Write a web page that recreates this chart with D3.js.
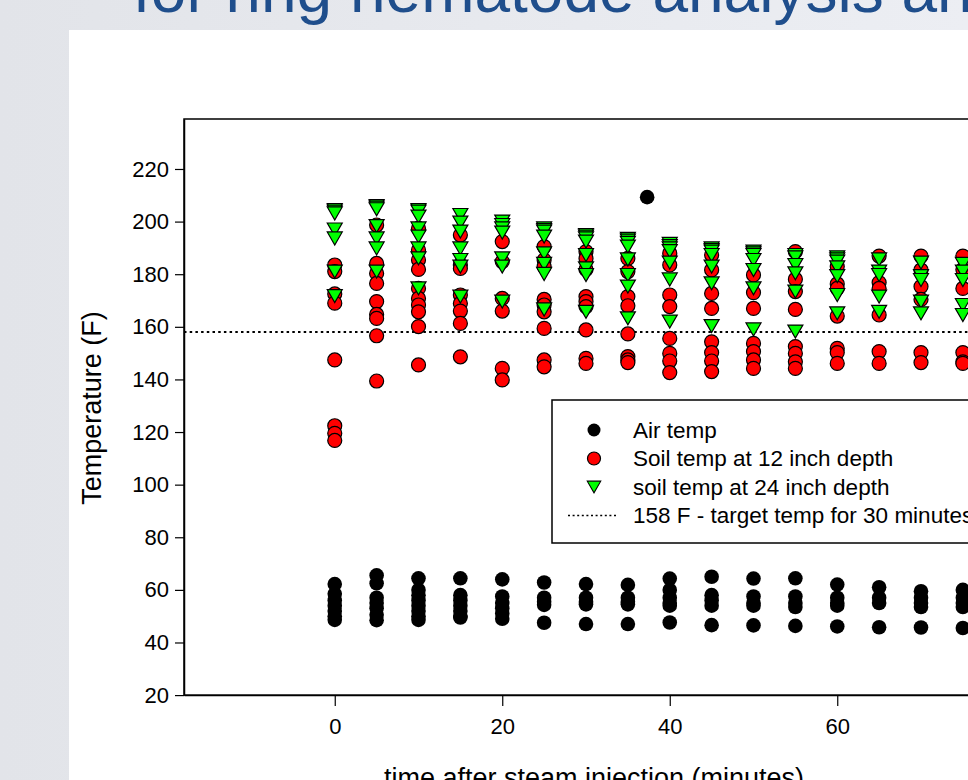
<!DOCTYPE html>
<html>
<head>
<meta charset="utf-8">
<script src="https://cdn.jsdelivr.net/npm/d3@7/dist/d3.min.js"></script>
<style>
  html, body { margin: 0; padding: 0; background: #e6e8ed; }
  svg { display: block; }
  text { font-family: "Liberation Sans", Arial, sans-serif; }
</style>
</head>
<body>
<svg id="chart" width="968" height="780"></svg>
<script>
// ---------------- DATA ----------------
const slideTitle = "for ring nematode analysis and";
const xTitle = "time after steam injection (minutes)";
const yTitle = "Temperature (F)";
const xTicks = [0, 20, 40, 60];
const yTicks = [20, 40, 60, 80, 100, 120, 140, 160, 180, 200, 220];
const targetTemp = 158;

const times = [0, 5, 10, 15, 20, 25, 30, 35, 40, 45, 50, 55, 60, 65, 70, 75];

const airTemp = [
  [62.2, 58.5, 56, 54, 52, 50, 48.6],
  [65.5, 62.5, 57, 55, 53, 50.5, 48.5],
  [64.4, 60, 58, 56, 54, 52, 50, 48.6],
  [64.4, 58, 56, 54, 52, 50, 49.5],
  [64, 57.5, 55, 53, 51, 49],
  [62.8, 57, 55.5, 54.3, 47.5],
  [62.2, 57, 55.5, 54.5, 47],
  [61.9, 57, 55.5, 54.5, 47],
  [64.3, 60, 57, 55, 54, 47.6],
  [65, 58, 56, 54, 46.6],
  [64.3, 57.5, 55, 54, 46.5],
  [64.4, 57.5, 55, 53.5, 46.3],
  [62, 57, 55, 54, 46.1],
  [61, 57, 55, 45.8],
  [59.5, 57, 55, 53.5, 45.7],
  [60, 57, 55, 53.5, 45.5]
];
const airExtraTimes = [37.3];
const airExtraValues = [209.3];

const soil12 = [
  [183.5, 181, 172.5, 169, 147.4, 122.4, 119.5, 116.8],
  [198.7, 184.1, 180.3, 176.5, 169.6, 164.7, 163.2, 156.6, 139.4],
  [197.4, 189.2, 185.4, 181.8, 174.6, 170.8, 168.3, 165.7, 160.1, 145.5],
  [194.9, 183.5, 182.2, 172.1, 168.9, 166, 161.3, 148.6],
  [192.4, 184.8, 170.8, 166, 144.2, 139.8],
  [190.5, 185.4, 182.9, 170.4, 168.3, 165.7, 159.4, 147.4, 144.8],
  [188.6, 186, 181.8, 171.5, 169.6, 167.7, 158.8, 148, 146.1],
  [186, 181, 171.5, 168, 157.3, 148.7, 147.4, 146.4],
  [188, 183.5, 172.1, 167.7, 155.6, 149.9, 147, 142.6],
  [187.3, 181.6, 172.7, 167, 154.3, 150.2, 147, 143],
  [179.7, 173, 167, 153.7, 150.6, 147.4, 144.2],
  [188.6, 178.1, 173.4, 166.6, 152.5, 149.9, 146.7, 144.2],
  [182.9, 176.3, 174.6, 164.1, 151.8, 150.2, 146.1],
  [186.9, 176.8, 174.6, 164.5, 150.6, 146.1],
  [186.9, 181.6, 175.3, 170.4, 150.2, 146.4],
  [186.9, 181.8, 174.6, 150.2, 146.7, 146.1]
];

const soil24 = [
  [204.4, 203.8, 203.1, 197, 193.6, 181, 171.7],
  [205.9, 205.3, 204.7, 198.3, 193.6, 189.8, 181],
  [204.4, 203.8, 201.9, 197.4, 194.3, 189.8, 186, 174.6],
  [202.5, 199.6, 196.2, 189.8, 185.4, 182.9, 171.5],
  [200, 198.7, 197.4, 195.8, 186, 182.9, 169.6],
  [197.4, 196.8, 196.2, 194.3, 187.9, 183.9, 180.1, 166.6],
  [194.9, 194.3, 193.6, 192.4, 187.3, 182.2, 179.7, 165.7],
  [193.4, 192.8, 191.9, 190.5, 185.6, 179.7, 175.3, 163.2],
  [191.5, 190.7, 189.8, 188.8, 184.4, 178, 162],
  [189.8, 189.2, 188.6, 187.3, 182.9, 176.5, 160.3],
  [188.6, 187.9, 187.3, 185.4, 181.6, 174.6, 159],
  [187.3, 186.4, 183.5, 180.3, 173.4, 158.2],
  [186.4, 185.6, 184.8, 182.6, 179.3, 172.1, 165.1],
  [185.6, 181, 179.7, 171.5, 165.7],
  [184.4, 179.3, 177.8, 169.6, 165.1],
  [183.9, 181, 177.8, 168.3, 164.5]
];

const legendLabels = [
  "Air temp",
  "Soil temp at 12 inch depth",
  "soil temp at 24 inch depth",
  "158 F - target temp for 30 minutes"
];

// ---------------- DRAW ----------------
const svg = d3.select("#chart");

// slide background
const defs = svg.append("defs");
const grad = defs.append("linearGradient").attr("id", "bg").attr("x1", "0").attr("x2", "1").attr("y1", "0").attr("y2", "0");
grad.append("stop").attr("offset", "0").attr("stop-color", "#e2e4e9");
grad.append("stop").attr("offset", "1").attr("stop-color", "#eceef3");
svg.append("rect").attr("width", 968).attr("height", 780).attr("fill", "url(#bg)");
svg.append("rect").attr("x", 69).attr("y", 30).attr("width", 899).attr("height", 750).attr("fill", "#ffffff");

// slide title (cut off at top, as in the slide)
svg.append("text")
  .attr("x", 133).attr("y", 12)
  .attr("font-size", 64)
  .attr("fill", "#1f4e8c")
  .text(slideTitle);

const plotLeft = 184, plotTop = 119, plotBottom = 695.1;
const x = d3.scaleLinear().domain([-18, 80]).range([plotLeft, plotLeft + 98 * 8.375]);
const y = d3.scaleLinear().domain([20, 239]).range([plotBottom, plotTop]);

// frame
svg.append("rect")
  .attr("x", x.range()[0]).attr("y", plotTop)
  .attr("width", x.range()[1] - x.range()[0]).attr("height", plotBottom - plotTop)
  .attr("fill", "none").attr("stroke", "#000").attr("stroke-width", 1.5);

// axes
const yAxis = svg.append("g")
  .attr("transform", `translate(${plotLeft},0)`)
  .call(d3.axisLeft(y).tickValues(yTicks).tickSizeInner(9).tickSizeOuter(0).tickPadding(6).tickFormat(d3.format("d")));
const xAxis = svg.append("g")
  .attr("transform", `translate(0,${plotBottom})`)
  .call(d3.axisBottom(x).tickValues(xTicks).tickSizeInner(11).tickSizeOuter(0).tickPadding(12).tickFormat(d3.format("d")));
[yAxis, xAxis].forEach(g => {
  g.select(".domain").attr("stroke", "#000").attr("stroke-width", 1.5);
  g.selectAll(".tick line").attr("stroke", "#000").attr("stroke-width", 1.2);
  g.selectAll(".tick text").attr("font-size", 22).attr("fill", "#000")
    .attr("font-family", "'Liberation Sans', Arial, sans-serif");
});

// axis titles
svg.append("text")
  .attr("transform", `translate(101,408) rotate(-90)`)
  .attr("text-anchor", "middle")
  .attr("font-size", 27)
  .attr("fill", "#000")
  .text(yTitle);
svg.append("text")
  .attr("x", 594).attr("y", 787)
  .attr("text-anchor", "middle")
  .attr("font-size", 27)
  .attr("fill", "#000")
  .text(xTitle);

// target line
svg.append("line")
  .attr("x1", x.range()[0]).attr("x2", x.range()[1])
  .attr("y1", y(targetTemp)).attr("y2", y(targetTemp))
  .attr("stroke", "#000").attr("stroke-width", 2).attr("stroke-dasharray", "2.5,3.2");

// flatten helper
function flat(series) {
  const out = [];
  series.forEach((vals, i) => vals.forEach(v => out.push({ t: times[i], v })));
  return out;
}
const airPts = flat(airTemp).concat(airExtraTimes.map((t, i) => ({ t, v: airExtraValues[i] })));

const tri = "M-7.5,-6.5L7.5,-6.5L0,6.5Z";

svg.append("g").selectAll("circle").data(airPts).join("circle")
  .attr("cx", d => x(d.t)).attr("cy", d => y(d.v)).attr("r", 7.3)
  .attr("fill", "#000");

svg.append("g").selectAll("circle").data(flat(soil12)).join("circle")
  .attr("cx", d => x(d.t)).attr("cy", d => y(d.v)).attr("r", 7)
  .attr("fill", "#ff0000").attr("stroke", "#000").attr("stroke-width", 1.2);

svg.append("g").selectAll("path").data(flat(soil24)).join("path")
  .attr("transform", d => `translate(${x(d.t)},${y(d.v)})`)
  .attr("d", tri)
  .attr("fill", "#00ff00").attr("stroke", "#000").attr("stroke-width", 1.2)
  .attr("stroke-linejoin", "miter");

// legend
const lg = svg.append("g");
lg.append("rect").attr("x", 552).attr("y", 400).attr("width", 460).attr("height", 143)
  .attr("fill", "#fff").attr("stroke", "#000").attr("stroke-width", 1.5);
const rowsY = [430, 458.5, 487, 515.5];
const symX = 594;
lg.append("circle").attr("cx", symX).attr("cy", rowsY[0]).attr("r", 6.5).attr("fill", "#000");
lg.append("circle").attr("cx", symX).attr("cy", rowsY[1]).attr("r", 6.5)
  .attr("fill", "#ff0000").attr("stroke", "#000").attr("stroke-width", 1.2);
lg.append("path").attr("transform", `translate(${symX},${rowsY[2]}) scale(0.9)`).attr("d", tri)
  .attr("fill", "#00ff00").attr("stroke", "#000").attr("stroke-width", 1.2);
lg.append("line").attr("x1", 568).attr("x2", 618).attr("y1", rowsY[3]).attr("y2", rowsY[3])
  .attr("stroke", "#000").attr("stroke-width", 1.5).attr("stroke-dasharray", "2,2.6");
lg.selectAll("text.lab").data(legendLabels).join("text")
  .attr("class", "lab")
  .attr("x", 633).attr("y", (d, i) => rowsY[i] + 7.8)
  .attr("font-size", 22.5).attr("fill", "#000")
  .text(d => d);
</script>
</body>
</html>
